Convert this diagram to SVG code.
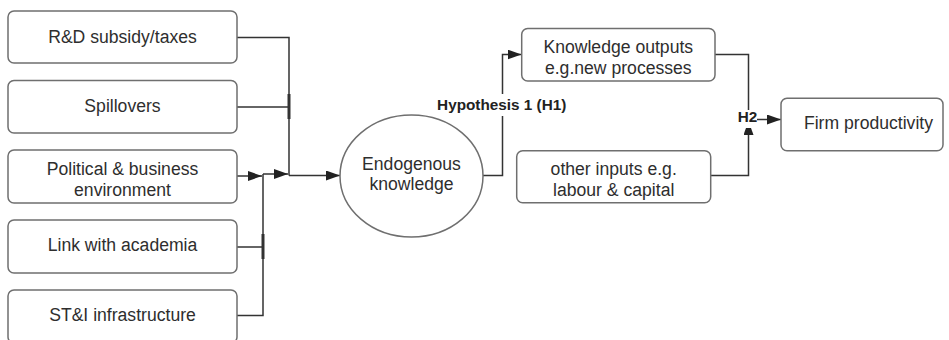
<svg xmlns="http://www.w3.org/2000/svg" width="949" height="340" viewBox="0 0 949 340">
<style>
.box{fill:#fff;stroke:#6f6f6f;stroke-width:1.5}
.t{font-family:"Liberation Sans",Arial,sans-serif;font-size:17.6px;fill:#2e2e2e;text-anchor:middle}
.b{font-family:"Liberation Sans",Arial,sans-serif;font-size:15.3px;font-weight:bold;fill:#222;text-anchor:middle}
.c{fill:none;stroke:#333;stroke-width:1.5}
.tick{stroke:#333;stroke-width:3}
</style>
<defs>
<marker id="ah" markerUnits="userSpaceOnUse" markerWidth="15" markerHeight="11" refX="14" refY="5" orient="auto">
<path d="M0,0 L14,5 L0,10 z" fill="#222"/>
</marker>
</defs>
<rect width="949" height="340" fill="#fff"/>

<g id="connectors">
<path class="c" d="M237,37.5 H289 V175.5"/>
<path class="c" d="M237,107 H289"/>
<line class="tick" x1="289" y1="94" x2="289" y2="119"/>
<path class="c" d="M289,175.5 H340" marker-end="url(#ah)"/>
<path class="c" d="M237,176 H262" marker-end="url(#ah)"/>
<path class="c" d="M237,247 H263"/>
<line class="tick" x1="263" y1="234" x2="263" y2="259"/>
<path class="c" d="M237,315.5 H263 V174"/>
<path class="c" d="M263,174 H288" marker-end="url(#ah)"/>
<path class="c" d="M483,175.5 H502.5 V54.5 H521.5" marker-end="url(#ah)"/>
<path class="c" d="M715,54.5 H748.5 V112"/>
<path class="c" d="M710.7,175.5 H748.5 V121" marker-end="url(#ah)"/>
<path class="c" d="M757,119.5 H781" marker-end="url(#ah)"/>
</g>

<g id="label-h1">
<rect x="435" y="94" width="134" height="22" fill="#fff"/>
<text class="b" x="501.7" y="110">Hypothesis 1 (H1)</text>
</g>
<g id="label-h2">
<rect x="737" y="110" width="20" height="18" fill="#fff"/>
<text class="b" x="747.5" y="122">H2</text>
</g>

<g id="rd">
<rect class="box" x="8" y="11" width="229" height="52" rx="6"/>
<text class="t" x="122.5" y="42.5">R&amp;D subsidy/taxes</text>
</g>
<g id="spill">
<rect class="box" x="8" y="80.5" width="229" height="52.5" rx="6"/>
<text class="t" x="122.5" y="112">Spillovers</text>
</g>
<g id="political">
<rect class="box" x="8" y="150" width="229" height="53" rx="6"/>
<text class="t" x="122.5" y="175">Political &amp; business</text>
<text class="t" x="122.5" y="195.5">environment</text>
</g>
<g id="academia">
<rect class="box" x="8" y="220" width="229" height="53" rx="6"/>
<text class="t" x="122.5" y="251">Link with academia</text>
</g>
<g id="sti">
<rect class="box" x="8" y="290" width="229" height="53" rx="6"/>
<text class="t" x="122.5" y="321">ST&amp;I infrastructure</text>
</g>
<g id="endogenous">
<ellipse class="box" cx="411.5" cy="176" rx="71.5" ry="61"/>
<text class="t" x="411.5" y="169.5">Endogenous</text>
<text class="t" x="411.5" y="189.5">knowledge</text>
</g>
<g id="knowledge-outputs">
<rect class="box" x="521.7" y="28.5" width="193.3" height="52.5" rx="6"/>
<text class="t" x="618.3" y="52.5">Knowledge outputs</text>
<text class="t" x="618.3" y="73.5">e.g.new processes</text>
</g>
<g id="other-inputs">
<rect class="box" x="516.7" y="150.7" width="194" height="52" rx="6"/>
<text class="t" x="613.7" y="175">other inputs e.g.</text>
<text class="t" x="613.7" y="195.5">labour &amp; capital</text>
</g>
<g id="firm">
<rect class="box" x="781" y="98.3" width="162" height="52.4" rx="6"/>
<text class="t" x="868.5" y="129">Firm productivity</text>
</g>
</svg>
